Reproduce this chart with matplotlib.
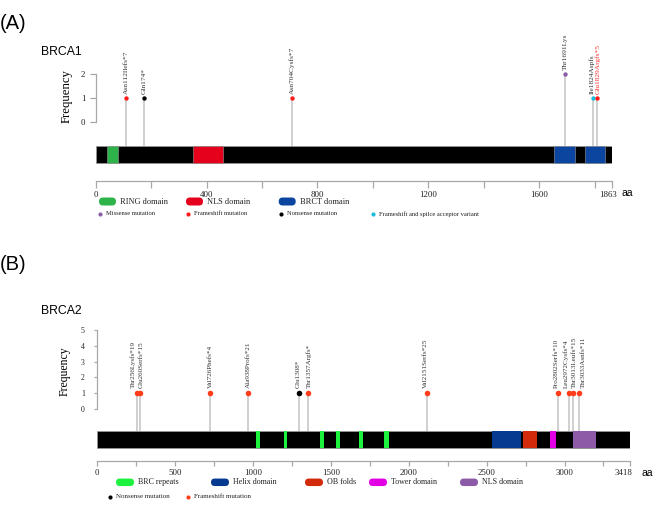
import matplotlib.pyplot as plt
from matplotlib.patches import FancyBboxPatch
from matplotlib.transforms import ScaledTranslation

plt.rcParams['font.family'] = 'Liberation Serif'

W, H = 669, 513

# ---- BRCA1 data ----
brca1_len = 1863
brca1_dom_names = ["RING domain", "NLS domain", "BRCT domain", "BRCT domain"]
brca1_dom_start = [40, 350, 1653, 1764]
brca1_dom_end = [79, 460, 1729, 1836]
brca1_mut = ["Asn112Ilefs*7", "Gln174*", "Asn704Cysfs*7", "Thr1691Lys", "Ile1824Aspfs", "Glu1829Argfs*5"]
brca1_pos = [110, 174, 708, 1694, 1794, 1809]
brca1_freq = [1, 1, 1, 2, 1, 1]
brca1_type = ["Frameshift", "Nonsense", "Frameshift", "Missense", "Splice", "Frameshift"]
brca1_major = [0, 400, 800, 1200, 1600, 1863]
brca1_minor = [200, 600, 1000, 1400, 1800]

# ---- BRCA2 data ----
brca2_len = 3418
brca2_dom_names = ["BRC repeats"] * 6 + ["Helix domain", "OB folds", "Tower domain", "NLS domain"]
brca2_dom_start = [1016, 1197, 1427, 1534, 1682, 1840, 2536, 2733, 2906, 3054]
brca2_dom_end = [1046, 1221, 1454, 1558, 1709, 1871, 2720, 2821, 2944, 3202]
brca2_mut = ["Thr256Lysfs*19", "Glu260Serfs*15", "Val726Phefs*4", "Ala938Profs*21", "Glu1308*",
             "Thr1357Argfs*", "Val2151Serfs*25", "Pro2802Serfs*10", "Leu2972Cysfs*4",
             "Thr3013Leufs*15", "Thr3033Asnfs*11"]
brca2_pos = [258, 272, 726, 970, 1296, 1354, 2118, 2957, 3026, 3056, 3095]
brca2_freq = [1] * 11
brca2_type = ["Frameshift"] * 4 + ["Nonsense"] + ["Frameshift"] * 6
brca2_major = [0, 500, 1000, 1500, 2000, 2500, 3000, 3418]
brca2_minor = [250, 750, 1250, 1750, 2250, 2750, 3250]

# styles
dom_colors_a = {"RING domain": "#2eb34b", "NLS domain": "#e5001b", "BRCT domain": "#0b45a0"}
dom_colors_b = {"BRC repeats": "#1cf23e", "Helix domain": "#063a90", "OB folds": "#d42a0c",
                "Tower domain": "#e400e4", "NLS domain": "#8c5aa6"}
mut_colors_a = {"Missense": "#8a5ea8", "Frameshift": "#ff1a1a", "Nonsense": "#000000", "Splice": "#1cbcdc"}
mut_colors_b = {"Frameshift": "#ff3d1a", "Nonsense": "#000000"}
gray = "#a8a8a8"
stem = "#c4c4c4"
txt = "#333333"


def fx(x):
    return x / W


def fy(y):
    return 1 - y / H


def setup_axes(ax, ymax, major, minor, ylen, ypad, ysize, xlen, xpad, last_shift):
    ax.patch.set_alpha(0)
    for s in ["top", "right"]:
        ax.spines[s].set_visible(False)
    ax.spines["left"].set_bounds(0, ymax)
    ax.spines["left"].set_color(gray)
    ax.spines["bottom"].set_color(gray)
    ax.spines["left"].set_linewidth(0.9)
    ax.spines["bottom"].set_linewidth(0.9)
    ax.set_yticks(range(ymax + 1))
    ax.set_xticks(major)
    ax.set_xticks(minor, minor=True)
    ax.tick_params(axis="y", length=ylen, pad=ypad, color=gray, width=0.9,
                   labelsize=ysize, labelcolor="#222222")
    ax.tick_params(axis="x", which="both", length=xlen, pad=xpad, color=gray, width=0.9,
                   labelsize=6.4, labelcolor="#222222")
    # last label (protein length) sits a little left of its tick
    lab = ax.get_xticklabels()[-1]
    lab.set_transform(lab.get_transform() + ScaledTranslation(last_shift / 100, 0, fig.dpi_scale_trans))


fig = plt.figure(figsize=(W / 100, H / 100), dpi=100)

# ================= Panel A =================
axA = fig.add_axes([fx(95.7), fy(181), (612 - 95.7) / W, (181 - 26) / H])
axA.set_xlim(0, brca1_len)
axA.set_ylim(-2.4583, 4.0)
setup_axes(axA, 2, brca1_major, brca1_minor, 4, 3.5, 6.4, 5.2, 1.7, -4)

barA_top, barA_bot = -1.0, -1.72
axA.barh((barA_top + barA_bot) / 2, brca1_len, left=0, height=barA_top - barA_bot,
         color="black", edgecolor="#9a9a9a", linewidth=0.5, zorder=2)
for name, s, e in zip(brca1_dom_names, brca1_dom_start, brca1_dom_end):
    axA.barh((barA_top + barA_bot) / 2, e - s, left=s, height=barA_top - barA_bot,
             color=dom_colors_a[name], edgecolor="#9a9a9a", linewidth=0.4, zorder=3)

dx_a = {"Ile1824Aspfs": -1.0, "Glu1829Argfs*5": 0.5}
for lab, p, f, t in zip(brca1_mut, brca1_pos, brca1_freq, brca1_type):
    axA.vlines(p, barA_top, f, color=stem, lw=1.1, zorder=1)
    axA.scatter(p, f, s=10, color=mut_colors_a[t], zorder=4, linewidths=0)
    axA.annotate(lab, (p, f), xytext=(dx_a.get(lab, 0), 2.6), textcoords="offset points",
                 rotation=90, ha="center", va="bottom", fontsize=5.3,
                 color="#ff3030" if lab == "Glu1829Argfs*5" else txt)

# ================= Panel B =================
axB = fig.add_axes([fx(97.3), fy(461), (629.6 - 97.3) / W, (461 - 300) / H])
axB.set_xlim(0, brca2_len)
axB.set_ylim(-3.2911, 6.8987)
setup_axes(axB, 5, brca2_major, brca2_minor, 2, 7, 5.6, 3.6, 2.4, -6)

barB_top, barB_bot = -1.373, -2.487
axB.barh((barB_top + barB_bot) / 2, brca2_len, left=0, height=barB_top - barB_bot,
         color="black", edgecolor="#9a9a9a", linewidth=0.5, zorder=2)
for name, s, e in zip(brca2_dom_names, brca2_dom_start, brca2_dom_end):
    axB.barh((barB_top + barB_bot) / 2, e - s, left=s, height=barB_top - barB_bot,
             color=dom_colors_b[name], linewidth=0, zorder=3)

dx_b = {"Thr256Lysfs*19": -3.0, "Glu260Serfs*15": 1.2, "Glu1308*": -0.7, "Thr1357Argfs*": 0.7,
        "Val2151Serfs*25": -1.0, "Pro2802Serfs*10": -1.0, "Leu2972Cysfs*4": -1.7,
        "Thr3013Leufs*15": 0.5, "Thr3033Asnfs*11": 2.7}
for lab, p, f, t in zip(brca2_mut, brca2_pos, brca2_freq, brca2_type):
    axB.vlines(p, barB_top, f, color=stem, lw=1.1, zorder=1)
    axB.scatter(p, f, s=16, color=mut_colors_b[t], zorder=4, linewidths=0)
    axB.annotate(lab, (p, f), xytext=(dx_b.get(lab, 0), 3.6), textcoords="offset points",
                 rotation=90, ha="center", va="bottom", fontsize=5.1, color=txt)

# ================= Overlay for texts and legends (pixel coords) =================
ov = fig.add_axes([0, 0, 1, 1])
ov.set_xlim(0, W)
ov.set_ylim(H, 0)
ov.axis("off")
ov.patch.set_alpha(0)

sans = "Liberation Sans"
ov.text(0, 23.5, "(A)", fontsize=14.5, family=sans, va="center", ha="left")
ov.text(0, 265, "(B)", fontsize=14.5, family=sans, va="center", ha="left")
ov.text(41, 52, "BRCA1", fontsize=8.8, family=sans, va="center", ha="left")
ov.text(41, 311, "BRCA2", fontsize=8.8, family=sans, va="center", ha="left")
ov.text(67, 96, "Frequency", fontsize=9.2, rotation=90, va="center", ha="center")
ov.text(65, 371, "Frequency", fontsize=8.5, rotation=90, va="center", ha="center")
ov.text(621, 193.5, "aa", fontsize=7.5, family=sans, va="center", ha="left")
ov.text(641, 472.5, "aa", fontsize=7.5, family=sans, va="center", ha="left")


def legend_box(x0, x1, yc, h, color, label, fs):
    ov.add_patch(FancyBboxPatch((x0, yc - h / 2), x1 - x0, h,
                                boxstyle="round,pad=0,rounding_size=%.1f" % (h / 2),
                                facecolor=color, edgecolor="none"))
    ov.text(x1 + 4, yc, label, fontsize=fs, va="center", ha="left", color="#222222")


def legend_dot(x, yc, color, label, fs, size=9):
    ov.scatter(x, yc, s=size, color=color, linewidths=0)
    ov.text(x + 6, yc, label, fontsize=fs, va="center", ha="left", color="#222222")


# Panel A legend
legA_x = [99, 186, 278.7]
for x0, name in zip(legA_x, ["RING domain", "NLS domain", "BRCT domain"]):
    legend_box(x0, x0 + 17, 201.5, 8, dom_colors_a[name], name, 6.0)
legA_dot_x = [100, 187.7, 280.7, 372.7]
legA_dot_lab = ["Missense mutation", "Frameshift mutation", "Nonsense mutation",
                "Frameshift and spilce acceptor variant"]
for x, t, lab in zip(legA_dot_x, ["Missense", "Frameshift", "Nonsense", "Splice"], legA_dot_lab):
    legend_dot(x, 213.7, mut_colors_a[t], lab, 4.7)

# Panel B legend
legB_x = [116, 211, 305, 369, 460]
for x0, name in zip(legB_x, ["BRC repeats", "Helix domain", "OB folds", "Tower domain", "NLS domain"]):
    legend_box(x0, x0 + 18, 482.3, 7.5, dom_colors_b[name], name, 5.8)
legend_dot(110, 496.7, "#000000", "Nonsense mutation", 5.0)
legend_dot(187.5, 496.7, mut_colors_b["Frameshift"], "Frameshift mutation", 5.0)

fig.savefig("out.png", dpi=100)
